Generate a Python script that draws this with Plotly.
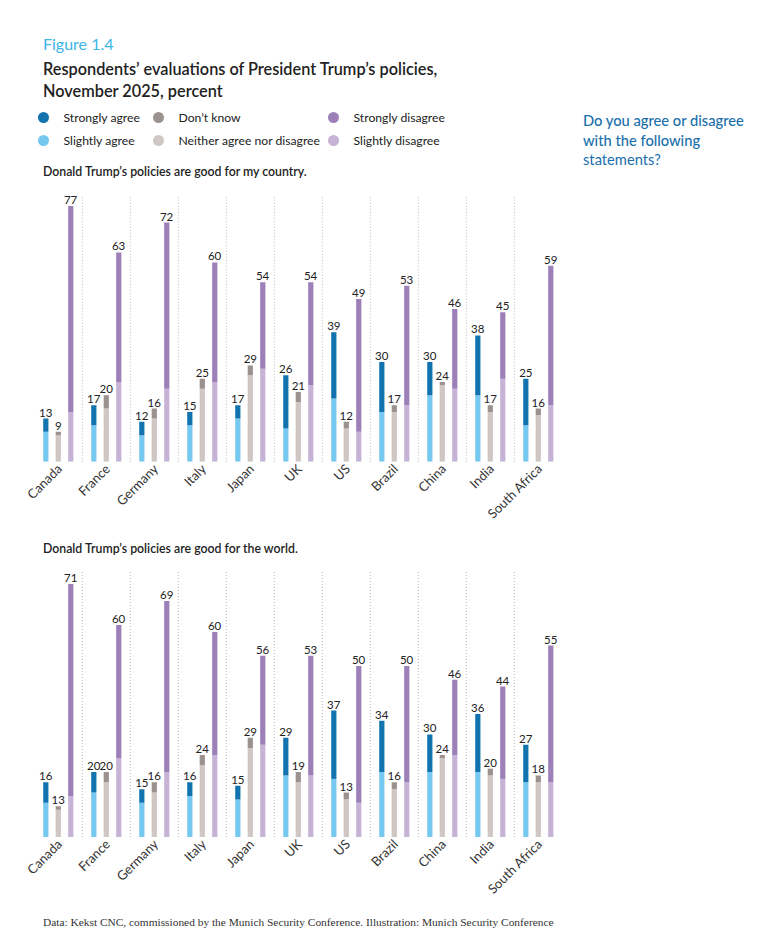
import plotly.graph_objects as go

countries = ["Canada", "France", "Germany", "Italy", "Japan", "UK", "US",
             "Brazil", "China", "India", "South Africa"]

# Panel 1: "Donald Trump's policies are good for my country."
c_slightly_agree = [9, 11, 8, 11, 13, 10, 19, 15, 20, 20, 11]
c_strongly_agree = [4, 6, 4, 4, 4, 16, 20, 15, 10, 18, 14]
c_neither = [8, 16, 13, 22, 26, 18, 10, 15, 23, 15, 14]
c_dont_know = [1, 4, 3, 3, 3, 3, 2, 2, 1, 2, 2]
c_slightly_disagree = [15, 24, 22, 24, 28, 23, 9, 17, 22, 25, 17]
c_strongly_disagree = [62, 39, 50, 36, 26, 31, 40, 36, 24, 20, 42]
c_agree_labels = [13, 17, 12, 15, 17, 26, 39, 30, 30, 38, 25]
c_neutral_labels = [9, 20, 16, 25, 29, 21, 12, 17, 24, 17, 16]
c_disagree_labels = [77, 63, 72, 60, 54, 54, 49, 53, 46, 45, 59]

# Panel 2: "Donald Trump's policies are good for the world."
w_slightly_agree = [10, 13, 10, 12, 11, 18, 17, 19, 19, 19, 16]
w_strongly_agree = [6, 6, 4, 4, 4, 11, 20, 15, 11, 17, 11]
w_neither = [8, 16, 13, 21, 26, 16, 11, 14, 23, 18, 16]
w_dont_know = [1, 3, 3, 3, 3, 3, 2, 2, 1, 2, 2]
w_slightly_disagree = [12, 23, 19, 24, 27, 18, 10, 16, 24, 17, 16]
w_strongly_disagree = [62, 39, 50, 36, 26, 35, 40, 34, 22, 27, 40]
w_agree_labels = [16, 20, 15, 16, 15, 29, 37, 34, 30, 36, 27]
w_neutral_labels = [13, 20, 16, 24, 29, 19, 13, 16, 24, 20, 18]
w_disagree_labels = [71, 60, 69, 60, 56, 53, 50, 50, 46, 44, 55]

COL = {
    "Strongly agree": "#1273ae",
    "Slightly agree": "#77c8ee",
    "Don’t know": "#9b928f",
    "Neither agree nor disagree": "#cec7c4",
    "Strongly disagree": "#9d80b8",
    "Slightly disagree": "#c6b3d6",
}

# page is 765x945; the html body adds an 8px margin, so the figure is
# sized to fit inside it and positions are given in page pixels
OFF = 8
W, H = 765 - 2 * OFF, 945 - 2 * OFF
FONT = "Lato"
DARK = "#222222"


def px(x):
    return (x - OFF) / W


def py(y):
    return 1 - (y - OFF) / H


fig = go.Figure()

panels = [
    ("x", "y", c_slightly_agree, c_strongly_agree, c_neither, c_dont_know,
     c_slightly_disagree, c_strongly_disagree,
     c_agree_labels, c_neutral_labels, c_disagree_labels),
    ("x2", "y2", w_slightly_agree, w_strongly_agree, w_neither, w_dont_know,
     w_slightly_disagree, w_strongly_disagree,
     w_agree_labels, w_neutral_labels, w_disagree_labels),
]

for (xa, ya, sa, st, ne, dk, sd, sdd, la, ln, ld) in panels:
    groups = [
        ("a", "Slightly agree", sa, "Strongly agree", st, la),
        ("n", "Neither agree nor disagree", ne, "Don’t know", dk, ln),
        ("d", "Slightly disagree", sd, "Strongly disagree", sdd, ld),
    ]
    for og, low_name, low, high_name, high, labels in groups:
        fig.add_trace(go.Bar(
            x=countries, y=low, base=[0] * len(low), name=low_name,
            marker=dict(color=COL[low_name], line=dict(width=0)),
            offsetgroup=og, xaxis=xa, yaxis=ya, showlegend=False,
            hoverinfo="skip"))
        fig.add_trace(go.Bar(
            x=countries, y=high, base=low, name=high_name,
            marker=dict(color=COL[high_name], line=dict(width=0)),
            offsetgroup=og, xaxis=xa, yaxis=ya, showlegend=False,
            text=[str(v) for v in labels], textposition="outside",
            constraintext="none", cliponaxis=False,
            textfont=dict(family=FONT, size=11.5, color=DARK),
            hoverinfo="skip"))

# legend entries (circle markers), three columns
legend_cols = [
    ("legend", ["Strongly agree", "Slightly agree"]),
    ("legend2", ["Don’t know", "Neither agree nor disagree"]),
    ("legend3", ["Strongly disagree", "Slightly disagree"]),
]
for lg, names in legend_cols:
    for nm in names:
        fig.add_trace(go.Scatter(
            x=[None], y=[None], mode="markers", name=nm,
            marker=dict(symbol="circle", size=11, color=COL[nm]),
            legend=lg, legendgroup=nm, showlegend=True))

# dotted separators between country groups
shapes = []
for i in range(len(countries) - 1):
    for xr, yr in (("x", "y domain"), ("x2", "y2 domain")):
        shapes.append(dict(type="line", xref=xr, yref=yr,
                           x0=i + 0.5, x1=i + 0.5, y0=0, y1=1,
                           line=dict(color="#bdb5b5", width=1,
                                     dash="1px,2px")))

xdom = [px(34.3), px(562.3)]
axis_x = dict(type="category", range=[-0.5, len(countries) - 0.5],
              domain=xdom, tickangle=-45, showline=False, showgrid=False,
              zeroline=False, ticks="", automargin=False,
              ticklabelstandoff=-4,
              tickfont=dict(family=FONT, size=13, color="#333333"))

leg_common = dict(orientation="v", xanchor="left", yanchor="top",
                  bgcolor="rgba(0,0,0,0)", borderwidth=0,
                  font=dict(family=FONT, size=12.2, color=DARK),
                  tracegroupgap=4, itemsizing="trace")

BLUE = "#1a70ab"
annotations = [
    dict(text="Figure 1.4", x=px(41), y=py(44), xref="paper", yref="paper",
         xanchor="left", yanchor="middle", showarrow=False,
         font=dict(family=FONT, size=16, color="#3db5e6")),
    dict(text="Respondents’ evaluations of President Trump’s policies,",
         x=px(41), y=py(68), xref="paper", yref="paper", xanchor="left",
         yanchor="middle", showarrow=False,
         font=dict(family=FONT, size=16.3, color=DARK, weight=600)),
    dict(text="November 2025, percent",
         x=px(41), y=py(90), xref="paper", yref="paper", xanchor="left",
         yanchor="middle", showarrow=False,
         font=dict(family=FONT, size=16.3, color=DARK, weight=600)),
    dict(text="Do you agree or disagree", x=px(581), y=py(120),
         xref="paper", yref="paper", xanchor="left", yanchor="middle",
         showarrow=False,
         font=dict(family=FONT, size=14.7, color=BLUE, weight=500)),
    dict(text="with the following", x=px(581), y=py(140),
         xref="paper", yref="paper", xanchor="left", yanchor="middle",
         showarrow=False,
         font=dict(family=FONT, size=14.7, color=BLUE, weight=500)),
    dict(text="statements?", x=px(581), y=py(159),
         xref="paper", yref="paper", xanchor="left", yanchor="middle",
         showarrow=False,
         font=dict(family=FONT, size=14.7, color=BLUE)),
    dict(text="Donald Trump’s policies are good for my country.",
         x=px(41), y=py(172), xref="paper", yref="paper", xanchor="left",
         yanchor="middle", showarrow=False,
         font=dict(family=FONT, size=12.3, color=DARK, weight=600)),
    dict(text="Donald Trump’s policies are good for the world.",
         x=px(41), y=py(548), xref="paper", yref="paper", xanchor="left",
         yanchor="middle", showarrow=False,
         font=dict(family=FONT, size=12.3, color=DARK, weight=600)),
    dict(text="Data: Kekst CNC, commissioned by the Munich Security Conference. "
              "Illustration: Munich Security Conference",
         x=px(41), y=py(922), xref="paper", yref="paper", xanchor="left",
         yanchor="middle", showarrow=False,
         font=dict(family="Liberation Serif", size=11.4, color="#333333")),
]

fig.update_layout(
    template="none",
    width=W, height=H,
    margin=dict(l=0, r=0, t=0, b=0, autoexpand=False),
    paper_bgcolor="white", plot_bgcolor="white",
    barmode="group", bargap=0.22, bargroupgap=0.58,
    xaxis=dict(anchor="y", **axis_x),
    xaxis2=dict(anchor="y2", **axis_x),
    yaxis=dict(domain=[py(461.7), py(195)], range=[0, 80.3], visible=False,
               fixedrange=True),
    yaxis2=dict(domain=[py(837), py(570)], range=[0, 78.1], visible=False,
                fixedrange=True),
    legend=dict(x=px(23.5), y=py(103), **leg_common),
    legend2=dict(x=px(138.5), y=py(103), **leg_common),
    legend3=dict(x=px(313.5), y=py(103), **leg_common),
    shapes=shapes,
    annotations=annotations,
    font=dict(family=FONT, color=DARK),
)

fig.write_html("out.html")
